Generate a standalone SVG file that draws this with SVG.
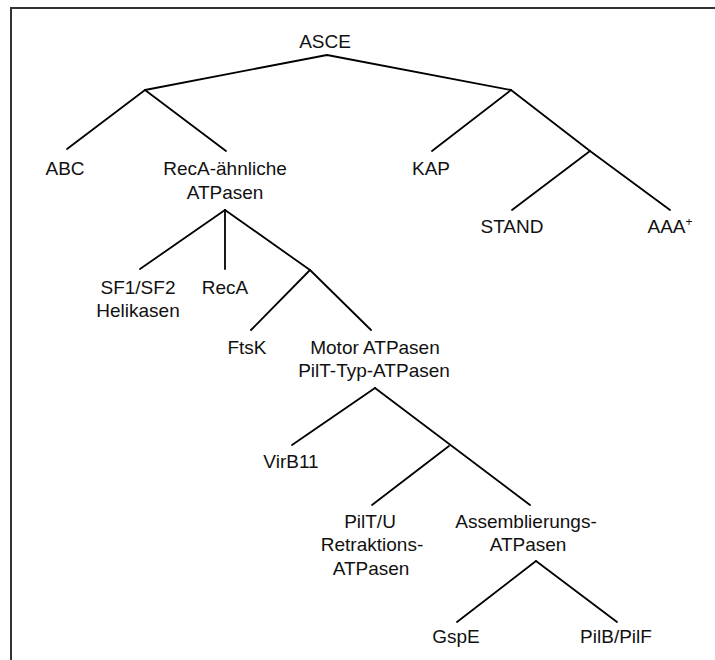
<svg xmlns="http://www.w3.org/2000/svg" width="715" height="660" viewBox="0 0 715 660">
<style>
.t{font-family:"Liberation Sans",Arial,sans-serif;font-size:19px;fill:#111;text-anchor:middle}
.e{stroke:#000;stroke-width:1.8;fill:none;stroke-linecap:round;stroke-linejoin:round}
</style>
<rect width="715" height="660" fill="#fff"/>
<path d="M11,660 V8 H715" fill="none" stroke="#333" stroke-width="2"/>
<g id="connectors" class="e">
<polyline points="145,90 327,55 511,90"/>
<line x1="145" y1="90" x2="67" y2="149"/>
<line x1="145" y1="90" x2="226" y2="151"/>
<line x1="511" y1="90" x2="432" y2="151"/>
<line x1="511" y1="90" x2="590" y2="151"/>
<line x1="590" y1="151" x2="512" y2="210"/>
<line x1="590" y1="151" x2="670" y2="210"/>
<line x1="225" y1="210" x2="140" y2="269"/>
<line x1="225" y1="210" x2="225" y2="269"/>
<line x1="225" y1="210" x2="310" y2="270"/>
<line x1="310" y1="270" x2="251" y2="330"/>
<line x1="310" y1="270" x2="371" y2="330"/>
<line x1="375" y1="388" x2="292" y2="445"/>
<line x1="375" y1="388" x2="530" y2="505"/>
<line x1="449" y1="446" x2="372" y2="505"/>
<line x1="536" y1="561" x2="457" y2="622"/>
<line x1="536" y1="561" x2="617" y2="622"/>
</g>
<g id="ASCE"><text class="t" x="325" y="48">ASCE</text></g>
<g id="ABC"><text class="t" x="65" y="175">ABC</text></g>
<g id="RecA-aehnliche"><text class="t" x="225" y="175">RecA-ähnliche</text><text class="t" x="225" y="199">ATPasen</text></g>
<g id="KAP"><text class="t" x="431" y="175">KAP</text></g>
<g id="STAND"><text class="t" x="512" y="233">STAND</text></g>
<g id="AAA"><text class="t" x="670" y="233">AAA<tspan font-size="12" dy="-7">+</tspan></text></g>
<g id="SF1SF2"><text class="t" x="138" y="294">SF1/SF2</text><text class="t" x="138" y="317">Helikasen</text></g>
<g id="RecA"><text class="t" x="225" y="294">RecA</text></g>
<g id="FtsK"><text class="t" x="247" y="354">FtsK</text></g>
<g id="Motor"><text class="t" x="375" y="354">Motor ATPasen</text><text class="t" x="374" y="377">PilT-Typ-ATPasen</text></g>
<g id="VirB11"><text class="t" x="291" y="468">VirB11</text></g>
<g id="PilTU"><text class="t" x="370" y="528">PilT/U</text><text class="t" x="372" y="551">Retraktions-</text><text class="t" x="371" y="575">ATPasen</text></g>
<g id="Assemblierungs"><text class="t" x="526" y="528">Assemblierungs-</text><text class="t" x="528" y="551">ATPasen</text></g>
<g id="GspE"><text class="t" x="456" y="643">GspE</text></g>
<g id="PilBPilF"><text class="t" x="616" y="643">PilB/PilF</text></g>
</svg>
